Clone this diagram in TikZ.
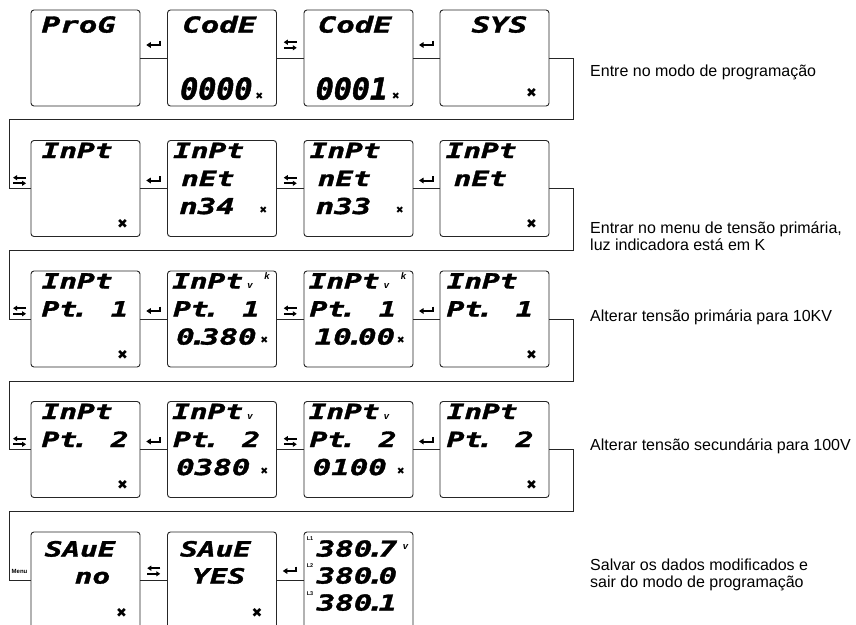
\documentclass[tikz,border=0pt]{standalone}
\usepackage{fontspec}
\setmainfont{Liberation Sans}
\newfontfamily\lcdS{DejaVu Sans Mono}[FakeStretch=1.4, BoldItalicFeatures={FakeBold=1.5}]
\newfontfamily\lcdB{DejaVu Sans Mono}[BoldItalicFeatures={FakeBold=1.5}]
\newfontfamily\dejavu{DejaVu Sans}
\usetikzlibrary{arrows.meta,calc}
\newcommand\dpt{\kern-0.28em.\kern-0.28em}
\newcommand\lcdat[6]{\node[#1] (#2) at ($(#3.north west)+(#4,#5)$) {#6};}
\tikzset{
  lcdbox/.style={draw=black!85, line width=0.9pt, rounded corners=3pt,
    minimum width=109pt, minimum height=96pt, inner sep=0pt},
  wire/.style={draw=black!85, line width=0.8pt},
  lA/.style={font=\lcdS\bfseries\itshape\fontsize{21}{21}\selectfont, inner sep=0pt, anchor=base west},
  lT/.style={font=\lcdS\bfseries\itshape\fontsize{22}{22}\selectfont, inner sep=0pt, anchor=base west},
  lTr/.style={lT, anchor=base east},
  lC/.style={font=\lcdS\bfseries\itshape\fontsize{22}{22}\selectfont, inner sep=0pt, anchor=base west},
  lB/.style={font=\lcdB\bfseries\itshape\fontsize{30}{30}\selectfont, inner sep=0pt, anchor=base west},
  xm/.style={font=\dejavu\fontsize{13}{13}\selectfont, inner sep=0pt},
  xs/.style={font=\dejavu\fontsize{9.5}{9.5}\selectfont, inner sep=0pt, anchor=base west},
  ind/.style={font=\bfseries\itshape\fontsize{9.5}{9.5}\selectfont, inner sep=0pt, anchor=base west},
  tiny/.style={font=\bfseries\fontsize{5.5}{5.5}\selectfont, inner sep=0pt, anchor=base west},
  desc/.style={font=\fontsize{16}{16.5}\selectfont, anchor=west, align=left, inner sep=0pt},
  enterkey/.pic={
    \draw[line width=2pt] (6,-4.5) -- (6,1);
    \draw[line width=2pt,-{Triangle[length=4.5pt,width=5.5pt]}] (7,0) -- (-7.5,0);},
  swapkey/.pic={
    \draw[line width=1.8pt,-{Triangle[length=4pt,width=5pt]}] (6.5,-2.8) -- (-6.5,-2.8);
    \draw[line width=1.8pt,-{Triangle[length=4pt,width=5pt]}] (-6.5,2.8) -- (6.5,2.8);},
}
\begin{document}
\begin{tikzpicture}[x=1pt,y=-1pt]
\clip (0,0) rectangle (856,624);
\fill[white] (0,0) rectangle (856,624);
% boxes
\foreach \r/\T in {1/10,2/140.5,3/271,4/401.5}{
  \foreach \c/\L in {1/31,2/167.5,3/304,4/440}{
    \node[lcdbox] (b\r\c) at (\L+54.5,\T+48) {};
  }
}
\foreach \c/\L in {1/31,2/167.5,3/304}{
  \node[lcdbox] (b5\c) at (\L+54.5,580) {};
}
% connectors inside rows
\foreach \r/\dy in {1/-13,2/-8,3/-8,4/-8}{
  \draw[wire] (b\r1.east) -- (b\r2.west);
  \draw[wire] (b\r2.east) -- (b\r3.west);
  \draw[wire] (b\r3.east) -- (b\r4.west);
  \pic at ($($(b\r1.east)!0.5!(b\r2.west)$)+(0,\dy)$) {enterkey};
  \pic at ($($(b\r2.east)!0.5!(b\r3.west)$)+(0,\dy)$) {swapkey};
  \pic at ($($(b\r3.east)!0.5!(b\r4.west)$)+(0,\dy)$) {enterkey};
}
\draw[wire] (b51.east) -- (b52.west);
\draw[wire] (b52.east) -- (b53.west);
\pic at ($($(b51.east)!0.5!(b52.west)$)+(0,-9)$) {swapkey};
\pic at ($($(b52.east)!0.5!(b53.west)$)+(0,-9)$) {enterkey};
% loops between rows
\coordinate (rt1) at (573,119);   \coordinate (lt1) at (9,119);
\coordinate (rt2) at (573,250.5); \coordinate (lt2) at (9,250.5);
\coordinate (rt3) at (573,381.5); \coordinate (lt3) at (9,381.5);
\coordinate (rt4) at (573,511.5); \coordinate (lt4) at (9,511.5);
\draw[wire] (b14.east) -| (rt1) -- (lt1) |- (b21.west);
\draw[wire] (b24.east) -| (rt2) -- (lt2) |- (b31.west);
\draw[wire] (b34.east) -| (rt3) -- (lt3) |- (b41.west);
\draw[wire] (b44.east) -| (rt4) -- (lt4) |- (b51.west);
\foreach \r in {2,3,4}{
  \pic at ($(b\r1.west)+(-11,-8)$) {swapkey};
}
\node[font=\bfseries\fontsize{6}{6}\selectfont, inner sep=0pt] (menu) at ($(b51.west)+(-11,-9)$) {Menu};
% ---- row 1 texts
\lcdat{lT}{t11a}{b11}{11}{23}{ProG}
\lcdat{lT}{t12a}{b12}{15}{23}{CodE}
\lcdat{lB}{t12b}{b12}{13}{90}{0000}
\lcdat{xs}{x12}{b12}{88}{90}{✖}
\lcdat{lT}{t13a}{b13}{14}{23}{CodE}
\lcdat{lB}{t13b}{b13}{12}{90}{0001}
\lcdat{xs}{x13}{b13}{88}{90}{✖}
\lcdat{lTr}{t14a}{b14}{88}{23}{SYS}
\lcdat{xm}{x14}{b14}{92}{83}{✖}
% ---- row 2
\lcdat{lA}{t21a}{b21}{11}{18}{InPt}
\lcdat{xm}{x21}{b21}{92}{84}{✖}
\lcdat{lA}{t22a}{b22}{6}{18}{InPt}
\lcdat{lA}{t22b}{b22}{14}{46}{nEt}
\lcdat{lC}{t22c}{b22}{12}{74}{n34}
\lcdat{xs}{x22}{b22}{92}{73}{✖}
\lcdat{lA}{t23a}{b23}{6}{18}{InPt}
\lcdat{lA}{t23b}{b23}{14}{46}{nEt}
\lcdat{lC}{t23c}{b23}{12}{74}{n33}
\lcdat{xs}{x23}{b23}{92}{73}{✖}
\lcdat{lA}{t24a}{b24}{6}{18}{InPt}
\lcdat{lA}{t24b}{b24}{14}{46}{nEt}
\lcdat{xm}{x24}{b24}{92}{84}{✖}
% ---- row 3
\lcdat{lA}{t31a}{b31}{11}{18}{InPt}
\lcdat{lA}{t31b}{b31}{11}{46}{Pt\dpt\ \hspace{10pt}1}
\lcdat{xm}{x31}{b31}{92}{84}{✖}
\lcdat{lA}{t32a}{b32}{5}{18}{InPt}
\lcdat{ind}{v32}{b32}{80}{18}{v}
\lcdat{ind}{k32}{b32}{97}{9}{k}
\lcdat{lA}{t32b}{b32}{6}{46}{Pt\dpt\ \hspace{10pt}1}
\lcdat{lC}{t32c}{b32}{9}{74}{0\dpt380}
\lcdat{xs}{x32}{b32}{93}{73}{✖}
\lcdat{lA}{t33a}{b33}{5}{18}{InPt}
\lcdat{ind}{v33}{b33}{80}{18}{v}
\lcdat{ind}{k33}{b33}{97}{9}{k}
\lcdat{lA}{t33b}{b33}{6}{46}{Pt\dpt\ \hspace{10pt}1}
\lcdat{lC}{t33c}{b33}{11}{74}{10\dpt00}
\lcdat{xs}{x33}{b33}{93}{73}{✖}
\lcdat{lA}{t34a}{b34}{7}{18}{InPt}
\lcdat{lA}{t34b}{b34}{7}{46}{Pt\dpt\ \hspace{10pt}1}
\lcdat{xm}{x34}{b34}{92}{84}{✖}
% ---- row 4
\lcdat{lA}{t41a}{b41}{11}{18}{InPt}
\lcdat{lA}{t41b}{b41}{11}{46}{Pt\dpt\ \hspace{10pt}2}
\lcdat{xm}{x41}{b41}{92}{84}{✖}
\lcdat{lA}{t42a}{b42}{5}{18}{InPt}
\lcdat{ind}{v42}{b42}{80}{18}{v}
\lcdat{lA}{t42b}{b42}{6}{46}{Pt\dpt\ \hspace{10pt}2}
\lcdat{lC}{t42c}{b42}{9}{74}{0380}
\lcdat{xs}{x42}{b42}{93}{73}{✖}
\lcdat{lA}{t43a}{b43}{5}{18}{InPt}
\lcdat{ind}{v43}{b43}{80}{18}{v}
\lcdat{lA}{t43b}{b43}{6}{46}{Pt\dpt\ \hspace{10pt}2}
\lcdat{lC}{t43c}{b43}{9}{74}{0100}
\lcdat{xs}{x43}{b43}{93}{73}{✖}
\lcdat{lA}{t44a}{b44}{7}{18}{InPt}
\lcdat{lA}{t44b}{b44}{7}{46}{Pt\dpt\ \hspace{10pt}2}
\lcdat{xm}{x44}{b44}{92}{84}{✖}
% ---- row 5
\lcdat{lA}{t51a}{b51}{14}{25}{SAuE}
\lcdat{lA}{t51b}{b51}{44}{52}{no}
\lcdat{xm}{x51}{b51}{91}{81}{✖}
\lcdat{lA}{t52a}{b52}{13}{25}{SAuE}
\lcdat{lA}{t52b}{b52}{25}{52}{YES}
\lcdat{xm}{x52}{b52}{90}{81}{✖}
\lcdat{tiny}{l1}{b53}{3}{9}{L1}
\lcdat{lC}{t53a}{b53}{13}{25}{380\dpt7}
\lcdat{ind}{v53}{b53}{99}{18}{v}
\lcdat{tiny}{l2}{b53}{3}{36}{L2}
\lcdat{lC}{t53b}{b53}{13}{52}{380\dpt0}
\lcdat{tiny}{l3}{b53}{3}{64}{L3}
\lcdat{lC}{t53c}{b53}{13}{79}{380\dpt1}
% ---- descriptions
\node[desc] (d1) at (590,72) {Entre no modo de programação};
\node[desc] (d2) at (590,236) {Entrar no menu de tensão primária,\\luz indicadora está em K};
\node[desc] (d3) at (590,317) {Alterar tensão primária para 10KV};
\node[desc] (d4) at (590,446) {Alterar tensão secundária para 100V};
\node[desc] (d5) at (590,575) {Salvar os dados modificados e\\sair do modo de programação};
\end{tikzpicture}
\end{document}
